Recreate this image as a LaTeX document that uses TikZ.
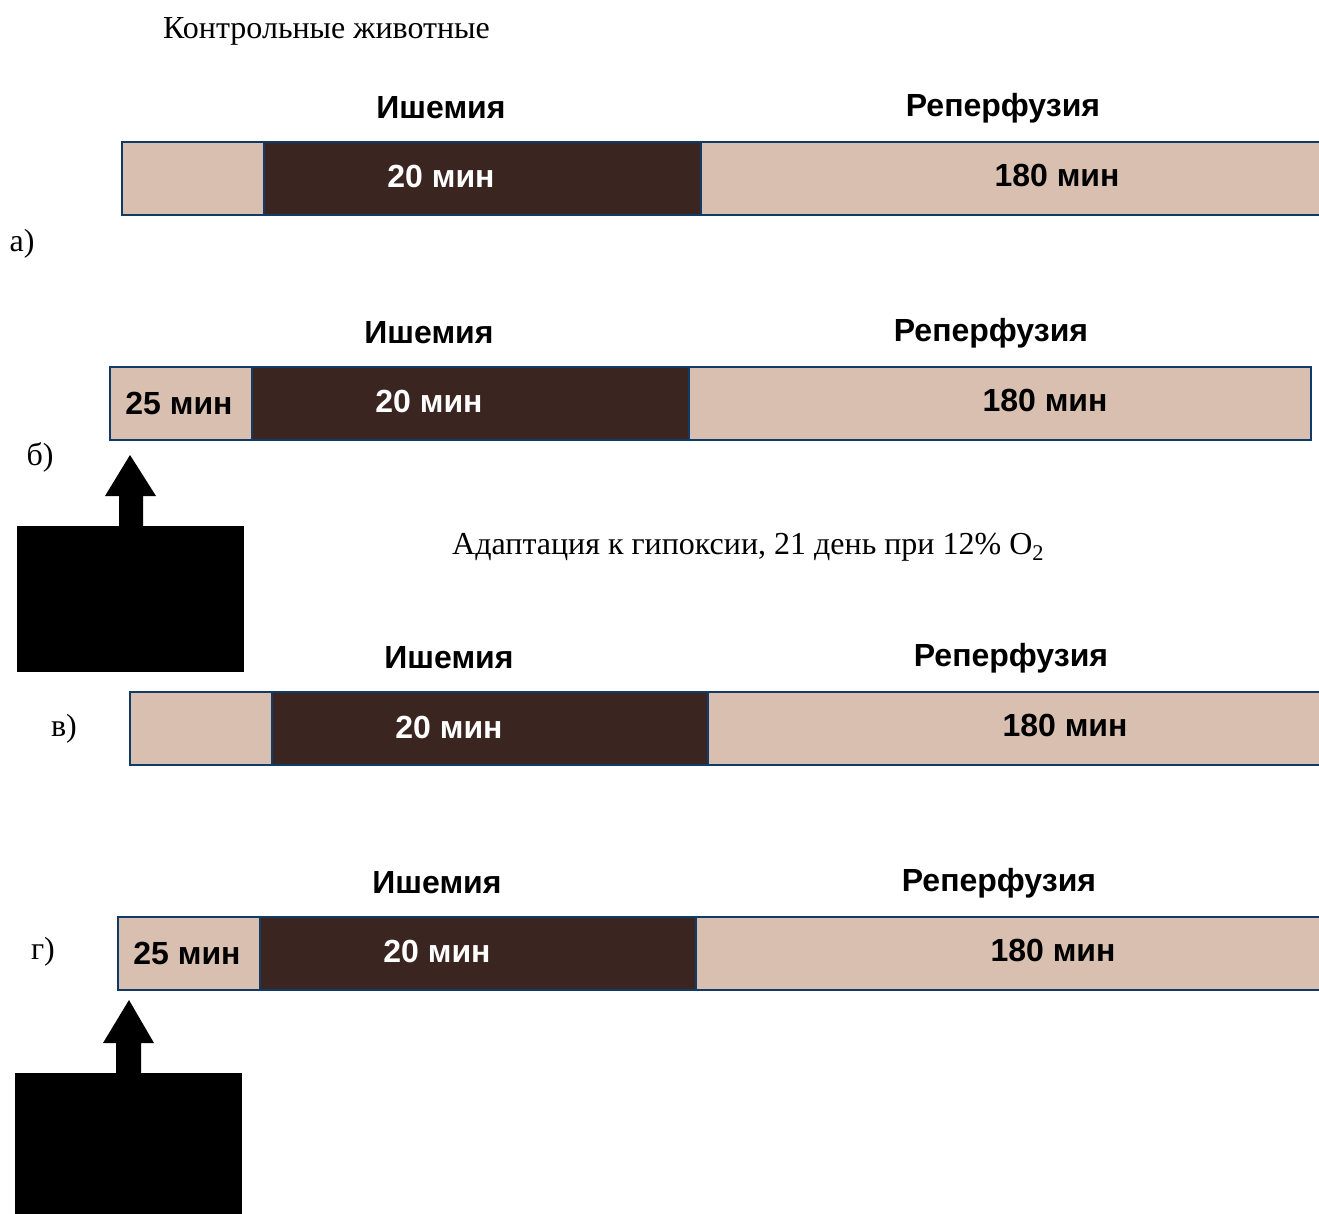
\documentclass[tikz,border=0pt]{standalone}
\usepackage{fontspec}
\setmainfont{Liberation Serif}
\newfontfamily\boldsans{Liberation Sans}
\definecolor{beige}{RGB}{216,191,176}
\definecolor{darkbrown}{RGB}{58,37,32}
\definecolor{bordercol}{RGB}{18,58,102}
\tikzset{
  seg/.style={draw=bordercol, line width=2pt, minimum height=73pt, anchor=north west, inner sep=0pt, outer sep=0pt},
  light/.style={seg, fill=beige},
  dark/.style={seg, fill=darkbrown},
  head/.style={font=\boldsans\fontsize{32}{36}\selectfont\bfseries, inner sep=0pt},
  lbl/.style={head, text=black},
  wlbl/.style={head, text=white},
  plain/.style={font=\fontsize{32}{36}\selectfont, inner sep=0pt},
}
\begin{document}
\begin{tikzpicture}[x=1pt,y=-1pt]
\useasboundingbox (0,0) rectangle (1319,1214);
\clip (0,0) rectangle (1319,1214);
\fill[white] (0,0) rectangle (1319,1214);

% titles
\node[plain, anchor=west] (title) at (163,31) {Контрольные животные};
\node[plain, anchor=west] (adapt) at (452,547) {Адаптация к гипоксии, 21 день при 12\% O\textsubscript{2}};

% ---------- a) ----------
\node[light, minimum width=142pt] (a1) at (122,142) {};
\node[dark, minimum width=437pt] (a2) at (264,142) {};
\node[light, minimum width=660pt] (a3) at (701,142) {};
\node[wlbl] (a2t) at (441,176) {20 мин};
\node[lbl] (a3t) at (1057,175) {180 мин};
\node[head] (aI) at (441,108) {Ишемия};
\node[head] (aR) at (1003,108) {Реперфузия};
\node[plain] (la) at (22,244) {а)};

% ---------- б) ----------
\node[light, minimum width=142pt] (b1) at (110,367) {};
\node[dark, minimum width=437pt] (b2) at (252,367) {};
\node[light, minimum width=622pt] (b3) at (689,367) {};
\node[lbl] (b1t) at (179,403) {25 мин};
\node[wlbl] (b2t) at (429,401) {20 мин};
\node[lbl] (b3t) at (1045,400) {180 мин};
\node[head] (bI) at (429,333) {Ишемия};
\node[head] (bR) at (991,333) {Реперфузия};
\node[plain] (lb) at (40,457) {б)};

% ---------- в) ----------
\node[light, minimum width=142pt] (c1) at (130,692) {};
\node[dark, minimum width=436pt] (c2) at (272,692) {};
\node[light, minimum width=660pt] (c3) at (708,692) {};
\node[wlbl] (c2t) at (449,727) {20 мин};
\node[lbl] (c3t) at (1065,725) {180 мин};
\node[head] (cI) at (449,658) {Ишемия};
\node[head] (cR) at (1011,658) {Реперфузия};
\node[plain] (lc) at (64,729) {в)};

% ---------- г) ----------
\node[light, minimum width=142pt] (d1) at (118,917) {};
\node[dark, minimum width=436pt] (d2) at (260,917) {};
\node[light, minimum width=660pt] (d3) at (696,917) {};
\node[lbl] (d1t) at (187,953) {25 мин};
\node[wlbl] (d2t) at (437,951) {20 мин};
\node[lbl] (d3t) at (1053,950) {180 мин};
\node[head] (dI) at (437,883) {Ишемия};
\node[head] (dR) at (999,883) {Реперфузия};
\node[plain] (ld) at (43,952) {г)};

% black arrow blocks
\fill[black] (119,527) -- (119,496) -- (105,496) -- (130,455) -- (156,496) -- (143,496) -- (143,527) -- cycle;
\fill[black] (17,526) rectangle (244,672);
\fill[black] (116,1074) -- (116,1043) -- (103,1043) -- (129,1000) -- (154,1043) -- (141,1043) -- (141,1074) -- cycle;
\fill[black] (15,1073) rectangle (242,1230);
\end{tikzpicture}
\end{document}
